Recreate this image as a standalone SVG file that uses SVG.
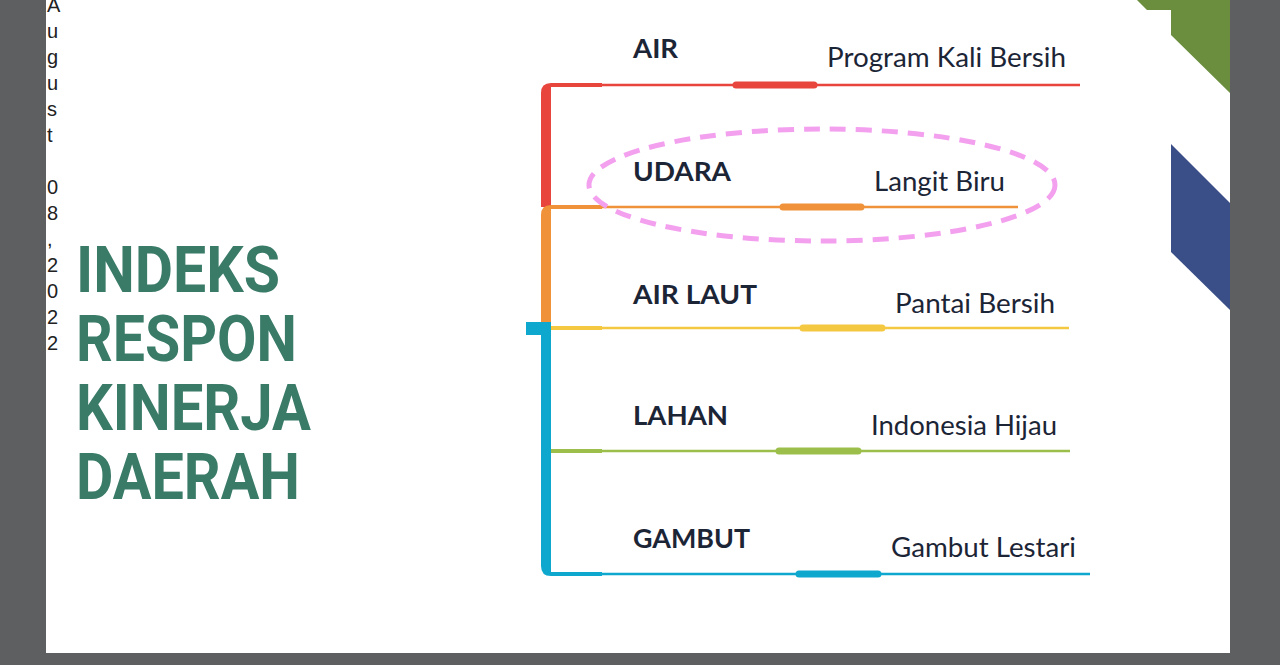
<svg xmlns="http://www.w3.org/2000/svg" width="1280" height="665" viewBox="0 0 1280 665">
<style>
.lbl{font-family:Lato,"Noto Sans","Liberation Sans",sans-serif;font-weight:700;font-size:26px;fill:#1c2536}
.sub{font-family:Lato,"Noto Sans","Liberation Sans",sans-serif;font-weight:400;font-size:27px;fill:#1c2536}
.title{font-family:Roboto,"Liberation Sans",sans-serif;font-weight:700;font-size:64px;fill:#3a7b68}
.date{font-family:"Liberation Sans",Arial,sans-serif;font-size:20px;fill:#222}
.thin{stroke-width:2.5;fill:none}
.thick{stroke-width:7;stroke-linecap:round;fill:none}
</style>
<rect x="0" y="0" width="1280" height="665" fill="#5e5f61"/>
<rect x="46" y="0" width="1184" height="653" fill="#ffffff"/>
<g id="deco">
<polygon points="1137,0 1147,10 1171,10 1171,35 1230,93 1230,0" fill="#6a8e3e"/>
<polygon points="1171,144 1230,203 1230,310 1171,252" fill="#3a4f87"/>
</g>
<g id="date">
<text class="date" x="47" y="12">A<tspan x="47" dy="26">u</tspan><tspan x="47" dy="26">g</tspan><tspan x="47" dy="26">u</tspan><tspan x="47" dy="26">s</tspan><tspan x="47" dy="26">t</tspan><tspan x="47" dy="52">0</tspan><tspan x="47" dy="26">8</tspan><tspan x="47" dy="26">,</tspan><tspan x="47" dy="26">2</tspan><tspan x="47" dy="26">0</tspan><tspan x="47" dy="26">2</tspan><tspan x="47" dy="26">2</tspan></text>
</g>
<g id="title">
<text class="title" x="76" y="292" textLength="204" lengthAdjust="spacingAndGlyphs">INDEKS</text>
<text class="title" x="76" y="361" textLength="221" lengthAdjust="spacingAndGlyphs">RESPON</text>
<text class="title" x="76" y="430" textLength="235" lengthAdjust="spacingAndGlyphs">KINERJA</text>
<text class="title" x="76" y="499" textLength="224" lengthAdjust="spacingAndGlyphs">DAERAH</text>
</g>
<g id="connectors">
<path d="M541,207 V93 Q541,83 551,83 H602 V87 H551 V207 Z" fill="#e8453c"/>
<path d="M541,328 V215 Q541,205 551,205 H602 V209 H551 V328 Z" fill="#f0923a"/>
<path d="M541,322 V566 Q541,576 551,576 H602 V572 H551 V322 Z" fill="#0ea8cf"/>
<rect x="526" y="322" width="20" height="13" fill="#0ea8cf"/>
<rect x="551" y="326" width="51" height="4" fill="#f5c842"/>
<rect x="551" y="449" width="51" height="4" fill="#9bbf4a"/>
<line class="thin" x1="600" y1="85" x2="1080" y2="85" stroke="#e8453c"/>
<line class="thick" x1="736" y1="85" x2="814" y2="85" stroke="#e8453c"/>
<line class="thin" x1="600" y1="207" x2="1018" y2="207" stroke="#f0923a"/>
<line class="thick" x1="783" y1="207" x2="861" y2="207" stroke="#f0923a"/>
<line class="thin" x1="600" y1="328" x2="1069" y2="328" stroke="#f5c842"/>
<line class="thick" x1="803" y1="328" x2="882" y2="328" stroke="#f5c842"/>
<line class="thin" x1="600" y1="451" x2="1070" y2="451" stroke="#9bbf4a"/>
<line class="thick" x1="779" y1="451" x2="858" y2="451" stroke="#9bbf4a"/>
<line class="thin" x1="600" y1="574" x2="1090" y2="574" stroke="#0ea8cf"/>
<line class="thick" x1="799" y1="574" x2="878" y2="574" stroke="#0ea8cf"/>
</g>
<g id="node-air">
<text class="lbl" x="633" y="58" textLength="45" lengthAdjust="spacingAndGlyphs">AIR</text>
<text class="sub" x="827" y="67" textLength="239" lengthAdjust="spacingAndGlyphs">Program Kali Bersih</text>
</g>
<g id="node-udara">
<text class="lbl" x="633" y="181" textLength="98" lengthAdjust="spacingAndGlyphs">UDARA</text>
<text class="sub" x="874" y="191" textLength="131" lengthAdjust="spacingAndGlyphs">Langit Biru</text>
</g>
<g id="node-airlaut">
<text class="lbl" x="633" y="304" textLength="124" lengthAdjust="spacingAndGlyphs">AIR LAUT</text>
<text class="sub" x="895" y="313" textLength="160" lengthAdjust="spacingAndGlyphs">Pantai Bersih</text>
</g>
<g id="node-lahan">
<text class="lbl" x="633" y="425" textLength="95" lengthAdjust="spacingAndGlyphs">LAHAN</text>
<text class="sub" x="871" y="435" textLength="186" lengthAdjust="spacingAndGlyphs">Indonesia Hijau</text>
</g>
<g id="node-gambut">
<text class="lbl" x="633" y="548" textLength="117" lengthAdjust="spacingAndGlyphs">GAMBUT</text>
<text class="sub" x="891" y="557" textLength="185" lengthAdjust="spacingAndGlyphs">Gambut Lestari</text>
</g>
<g id="highlight">
<ellipse cx="822" cy="185" rx="233" ry="56" fill="none" stroke="#f3a0ef" stroke-width="5" stroke-dasharray="16 10"/>
</g>
</svg>
